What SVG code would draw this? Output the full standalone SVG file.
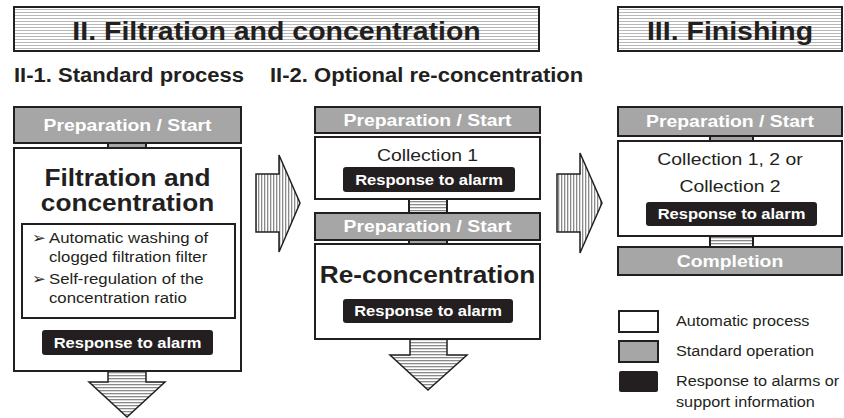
<svg xmlns="http://www.w3.org/2000/svg" width="844" height="418" viewBox="0 0 844 418">
<defs>
<pattern id="hdr" width="6" height="3" patternUnits="userSpaceOnUse"><rect width="6" height="3" fill="#ffffff"/><rect width="6" height="1" fill="#b8b8b8"/></pattern>
<pattern id="hs" width="6" height="3" patternUnits="userSpaceOnUse"><rect width="6" height="3" fill="#ffffff"/><rect width="6" height="1.3" fill="#8a8a8a"/></pattern>
<pattern id="vs" width="3" height="6" patternUnits="userSpaceOnUse"><rect width="3" height="6" fill="#ffffff"/><rect width="1.3" height="6" fill="#8a8a8a"/></pattern>
<style>
text{font-family:"Liberation Sans",Arial,sans-serif;fill:#231f20}
.hd{font-size:25px;font-weight:bold}
.sub{font-size:19.5px;font-weight:bold}
.gbar{fill:#a6a6a6;stroke:#231f20;stroke-width:2}
.wbox{fill:#ffffff;stroke:#231f20;stroke-width:2}
.hbox{fill:url(#hdr);stroke:#231f20;stroke-width:2}
.alarm{fill:#231f20;stroke:none}
.wt{fill:#ffffff;font-weight:bold;font-size:17px}
.at{fill:#ffffff;font-weight:bold;font-size:14.5px}
.big{font-size:23px;font-weight:bold}
.reg{font-size:17px}
.bul{font-size:14.7px}
.leg{font-size:14.5px}
.arr{stroke:#231f20;stroke-width:1.5;stroke-linejoin:miter}
</style>
</defs>

<g id="header-ii">
<rect class="hbox" x="14" y="7" width="525" height="44"/>
<text class="hd" text-anchor="middle" transform="translate(276.5,40) scale(1.14,1)">II.  Filtration and  concentration</text>
</g>
<g id="header-iii">
<rect class="hbox" x="618" y="7" width="224" height="44"/>
<text class="hd" text-anchor="middle" transform="translate(730,40) scale(1.14,1)">III. Finishing</text>
</g>
<g id="subtitle-ii-1">
<text class="sub" transform="translate(14,82) scale(1.13,1)">II-1. Standard process</text>
</g>
<g id="subtitle-ii-2">
<text class="sub" transform="translate(270,82) scale(1.13,1)">II-2. Optional re-concentration</text>
</g>

<g id="connectors">
<rect class="gbar" x="108" y="143" width="38" height="5"/>
<rect x="409" y="199" width="38" height="14" fill="url(#hs)" stroke="#231f20" stroke-width="2"/>
<rect class="gbar" x="409" y="240" width="38" height="4"/>
<rect class="gbar" x="710" y="136" width="43" height="5"/>
<rect x="710" y="236" width="43" height="11" fill="url(#hs)" stroke="#231f20" stroke-width="2"/>
<path class="arr" fill="url(#hs)" d="M108,371 H146 V382 H165 L127,417 L89,382 H108 Z"/>
<path class="arr" fill="url(#hs)" d="M410,339 H447 V355 H467 L428,390 L390,355 H410 Z"/>
<path class="arr" fill="url(#vs)" d="M256,174 H279 V155 L300,203 L279,252 V232 H256 Z"/>
<path class="arr" fill="url(#vs)" d="M557,174 H580 V153 L602,203 L580,253 V232 H557 Z"/>
</g>

<g id="c1-prep">
<rect class="gbar" x="14" y="107" width="227" height="36"/>
<text class="wt" text-anchor="middle" transform="translate(127.5,131) scale(1.14,1)">Preparation / Start</text>
</g>
<g id="c1-filtration">
<rect class="wbox" x="14" y="148" width="227" height="223"/>
<text class="big" text-anchor="middle" transform="translate(127.5,186) scale(1.14,1)">Filtration and</text>
<text class="big" text-anchor="middle" transform="translate(127.5,211) scale(1.14,1)">concentration</text>
<rect class="wbox" x="22" y="224" width="213" height="94"/>
<text class="bul" transform="translate(32,243) scale(1.1,1)"><tspan font-family="DejaVu Sans" font-size="15">➢</tspan></text>
<text class="bul" transform="translate(49,243) scale(1.14,1)">Automatic washing of</text>
<text class="bul" transform="translate(49,262) scale(1.14,1)">clogged filtration filter</text>
<text class="bul" transform="translate(32,284) scale(1.1,1)"><tspan font-family="DejaVu Sans" font-size="15">➢</tspan></text>
<text class="bul" transform="translate(49,284) scale(1.14,1)">Self-regulation of the</text>
<text class="bul" transform="translate(49,303) scale(1.14,1)">concentration ratio</text>
<rect class="alarm" x="42" y="330" width="171" height="25" rx="3"/>
<text class="at" text-anchor="middle" transform="translate(127.5,348) scale(1.14,1)">Response to alarm</text>
</g>

<g id="c2-prep1">
<rect class="gbar" x="315" y="107" width="225" height="26"/>
<text class="wt" text-anchor="middle" transform="translate(427.5,126) scale(1.14,1)">Preparation / Start</text>
</g>
<g id="c2-collection1">
<rect class="wbox" x="315" y="137" width="225" height="62"/>
<text class="reg" text-anchor="middle" transform="translate(427.5,161) scale(1.14,1)">Collection 1</text>
<rect class="alarm" x="343" y="167" width="172" height="25" rx="3"/>
<text class="at" text-anchor="middle" transform="translate(429,185) scale(1.14,1)">Response to alarm</text>
</g>
<g id="c2-prep2">
<rect class="gbar" x="315" y="213" width="225" height="27"/>
<text class="wt" text-anchor="middle" transform="translate(427.5,232) scale(1.14,1)">Preparation / Start</text>
</g>
<g id="c2-reconcentration">
<rect class="wbox" x="315" y="244" width="225" height="95"/>
<text class="big" text-anchor="middle" transform="translate(427.5,283) scale(1.14,1)">Re-concentration</text>
<rect class="alarm" x="343" y="299" width="170" height="24" rx="3"/>
<text class="at" text-anchor="middle" transform="translate(428,316) scale(1.14,1)">Response to alarm</text>
</g>

<g id="c3-prep">
<rect class="gbar" x="618" y="107" width="224" height="29"/>
<text class="wt" text-anchor="middle" transform="translate(730,127) scale(1.14,1)">Preparation / Start</text>
</g>
<g id="c3-collection">
<rect class="wbox" x="618" y="141" width="224" height="95"/>
<text class="reg" text-anchor="middle" transform="translate(730,165) scale(1.14,1)">Collection 1, 2 or</text>
<text class="reg" text-anchor="middle" transform="translate(730,192) scale(1.14,1)">Collection 2</text>
<rect class="alarm" x="646" y="202" width="171" height="24" rx="3"/>
<text class="at" text-anchor="middle" transform="translate(731.5,219) scale(1.14,1)">Response to alarm</text>
</g>
<g id="c3-completion">
<rect class="gbar" x="618" y="247" width="224" height="28"/>
<text class="wt" text-anchor="middle" transform="translate(730,267) scale(1.14,1)">Completion</text>
</g>

<g id="legend">
<rect class="wbox" x="619" y="311" width="39" height="21"/>
<text class="leg" transform="translate(676,326) scale(1.12,1)">Automatic process</text>
<rect class="gbar" x="619" y="341" width="39" height="21"/>
<text class="leg" transform="translate(676,356) scale(1.12,1)">Standard operation</text>
<rect class="alarm" x="619" y="371" width="39" height="21" rx="2"/>
<text class="leg" transform="translate(676,386) scale(1.12,1)">Response to alarms or</text>
<text class="leg" transform="translate(676,407) scale(1.12,1)">support information</text>
</g>
</svg>
